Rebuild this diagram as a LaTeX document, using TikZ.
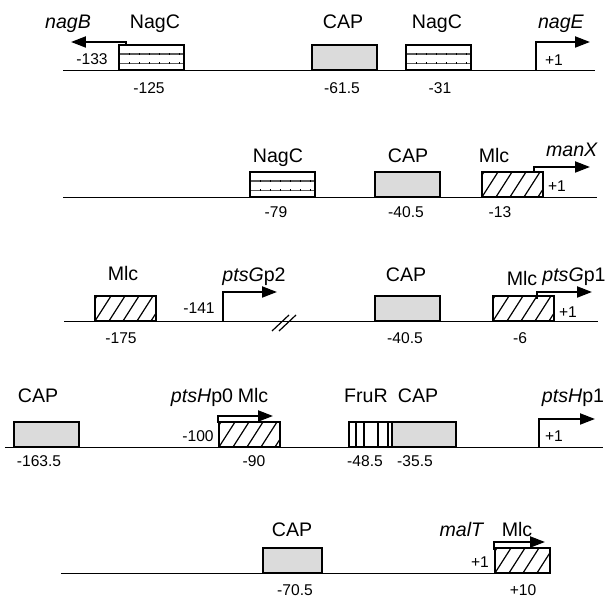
\documentclass[tikz,border=0pt]{standalone}
\usepackage{fontspec}
\setmainfont{Liberation Sans}
\usetikzlibrary{arrows.meta,calc}

\begin{document}
\begin{tikzpicture}[x=0.5pt,y=-0.5pt]
	\tikzset{dna/.style={line width=0.5pt}}
	\tikzset{prom/.style={line width=1pt,-{Triangle[length=7.5pt,width=5.5pt]}}}
	\tikzset{site/.style={draw,line width=1pt,rectangle,inner sep=0pt,minimum height=12.5pt,anchor=south west,fill=white}}
	\tikzset{capsite/.style={site,fill=black!14,minimum width=32.5pt}}
	\tikzset{nagcsite/.style={site,minimum width=32.5pt,path picture={
		\foreach \f in {0.37,0.74}{
			\draw[line width=0.9pt,black!65] ($(path picture bounding box.north west)!\f!(path picture bounding box.south west)$) -- ($(path picture bounding box.north east)!\f!(path picture bounding box.south east)$);
			\draw[line width=1pt,dash pattern=on 0.6pt off 4.4pt] ($(path picture bounding box.north west)!\f!(path picture bounding box.south west)$) -- ($(path picture bounding box.north east)!\f!(path picture bounding box.south east)$);
		}}}}
	\tikzset{mlcsite/.style={site,minimum width=30.5pt,path picture={
		\foreach \k in {-1,...,5}
			\draw[line width=0.6pt] ([xshift=\k*7pt]path picture bounding box.south west) -- ++(8pt,12.5pt);
		}}}
	\tikzset{frursite/.style={site,minimum width=21.5pt,path picture={
		\foreach \f in {0.16,0.35,0.67,0.91}
			\draw[line width=0.7pt] ($(path picture bounding box.north west)!\f!(path picture bounding box.north east)$) -- ($(path picture bounding box.south west)!\f!(path picture bounding box.south east)$);
		}}}
	\tikzset{big/.style={font=\fontsize{9.8}{11}\selectfont,anchor=base,inner sep=0pt}}
	\tikzset{num/.style={font=\fontsize{7.8}{9}\selectfont,anchor=base,inner sep=0pt}}
	\useasboundingbox (0,0) rectangle (607,597);

	% nagE - nagB
	\coordinate (d1a) at (63,71); \coordinate (d1b) at (595,71);
	\draw[dna] (d1a) -- (d1b);
	\node[nagcsite] (nagc1) at (118,71) {};
	\node[capsite] (cap1) at (311,71) {};
	\node[nagcsite] (nagc2) at (405,71) {};
	\coordinate (nagBs) at (126,46); \coordinate (nagBt) at (71,42);
	\draw[prom] (nagBs) |- (nagBt);
	\coordinate (nagEs) at (536,71); \coordinate (nagEt) at (590,42);
	\draw[prom] (nagEs) |- (nagEt);
	\node[big] (nagB) at (68,28.5) {\textit{nagB}};
	\node[big] (lnagc1) at (155,28.5) {NagC};
	\node[big] (lcap1) at (343,28.5) {CAP};
	\node[big] (lnagc2) at (437,28.5) {NagC};
	\node[big] (nagE) at (561,28.5) {\textit{nagE}};
	\node[num] (p133) at (92,65) {-133};
	\node[num] (p125) at (149,94) {-125};
	\node[num] (p61) at (342,94) {-61.5};
	\node[num] (p31) at (440,94) {-31};
	\node[num] (p1a) at (554,66) {+1};

	% manX
	\coordinate (d2a) at (63,198); \coordinate (d2b) at (597,198);
	\draw[dna] (d2a) -- (d2b);
	\node[nagcsite] (nagc3) at (249,198) {};
	\node[capsite] (cap2) at (374,198) {};
	\node[mlcsite] (mlc1) at (481,198) {};
	\coordinate (manXs) at (534,173); \coordinate (manXt) at (590,167);
	\draw[prom] (manXs) |- (manXt);
	\node[big] (lnagc3) at (278,163) {NagC};
	\node[big] (lcap2) at (408,163) {CAP};
	\node[big] (lmlc1) at (494,163) {Mlc};
	\node[big] (manX) at (572,157) {\textit{manX}};
	\node[num] (p1b) at (557,192) {+1};
	\node[num] (p79) at (276,218) {-79};
	\node[num] (p40a) at (406,218) {-40.5};
	\node[num] (p13) at (500,218) {-13};

	% ptsG
	\coordinate (d3a) at (64,322); \coordinate (d3b) at (598,322);
	\draw[dna] (d3a) -- (d3b);
	\draw[line width=0.6pt] (272,331) -- (289,315) (279,331) -- (296,315);
	\node[mlcsite] (mlc2) at (94,322) {};
	\node[capsite] (cap3) at (374,322) {};
	\node[mlcsite] (mlc3) at (492,322) {};
	\coordinate (ptsG2s) at (223,322); \coordinate (ptsG2t) at (277,292);
	\draw[prom] (ptsG2s) |- (ptsG2t);
	\coordinate (ptsG1s) at (537,299); \coordinate (ptsG1t) at (592,292);
	\draw[prom] (ptsG1s) |- (ptsG1t);
	\node[big] (lmlc2) at (123,281) {Mlc};
	\node[big] (ptsG2) at (254,282) {\textit{ptsG}p2};
	\node[big] (lcap3) at (406,282) {CAP};
	\node[big] (lmlc3) at (522,286) {Mlc};
	\node[big] (ptsG1) at (574,282) {\textit{ptsG}p1};
	\node[num] (p141) at (199,314) {-141};
	\node[num] (p1c) at (568,318) {+1};
	\node[num] (p175) at (121,344) {-175};
	\node[num] (p40b) at (405,344) {-40.5};
	\node[num] (p6) at (520,344) {-6};

	% ptsH
	\coordinate (d4a) at (5,448); \coordinate (d4b) at (603,448);
	\draw[dna] (d4a) -- (d4b);
	\node[capsite] (cap4) at (13,448) {};
	\node[mlcsite] (mlc4) at (218,448) {};
	\node[frursite] (frur) at (348,448) {};
	\node[capsite,minimum width=32pt] (cap5) at (391,448) {};
	\coordinate (ptsH0s) at (218,423); \coordinate (ptsH0t) at (273,416);
	\draw[prom] (ptsH0s) |- (ptsH0t);
	\coordinate (ptsH1s) at (539,448); \coordinate (ptsH1t) at (595,419);
	\draw[prom] (ptsH1s) |- (ptsH1t);
	\node[big] (lcap4) at (38,403) {CAP};
	\node[big] (ptsH0) at (202,403) {\textit{ptsH}p0};
	\node[big] (lmlc4) at (253,403) {Mlc};
	\node[big] (lfrur) at (366,403) {FruR};
	\node[big] (lcap5) at (418,403) {CAP};
	\node[big] (ptsH1) at (573,403) {\textit{ptsH}p1};
	\node[num] (p100) at (198,442) {-100};
	\node[num] (p1d) at (554,442) {+1};
	\node[num] (p163) at (39,467) {-163.5};
	\node[num] (p90) at (254,467) {-90};
	\node[num] (p48) at (365,467) {-48.5};
	\node[num] (p35) at (415,467) {-35.5};

	% malT
	\coordinate (d5a) at (61,574); \coordinate (d5b) at (550,574);
	\draw[dna] (d5a) -- (d5b);
	\node[capsite,minimum width=29.5pt] (cap6) at (262,574) {};
	\node[mlcsite,minimum width=27.5pt] (mlc5) at (494,574) {};
	\coordinate (malTs) at (494,550); \coordinate (malTt) at (545,542);
	\draw[prom] (malTs) |- (malTt);
	\node[big] (lcap6) at (292,537) {CAP};
	\node[big] (malT) at (462,537) {\textit{malT}};
	\node[big] (lmlc5) at (517,537) {Mlc};
	\node[num] (p1e) at (480,568) {+1};
	\node[num] (p70) at (295,596) {-70.5};
	\node[num] (p10) at (523,596) {+10};
\end{tikzpicture}
\end{document}
